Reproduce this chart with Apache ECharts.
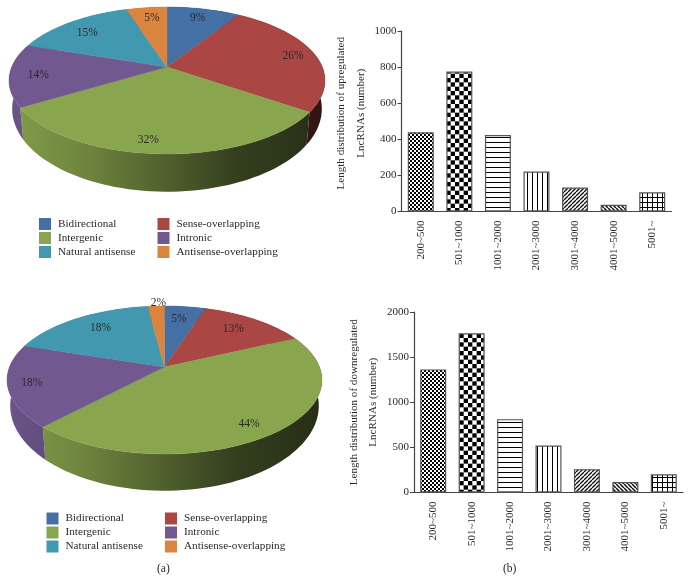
<!DOCTYPE html>
<html><head><meta charset="utf-8">
<style>html,body{margin:0;padding:0;background:#fff}#c{width:691px;height:579px}</style>
<script src="https://cdn.jsdelivr.net/npm/echarts@6/dist/echarts.min.js"></script>
</head><body><div id="c"></div>
<script>
// ---- data ----
const pieCategories = ['Bidirectional','Sense-overlapping','Intergenic','Intronic','Natural antisense','Antisense-overlapping'];
const upPieShares = [9,26,32,14,15,5];
const downPieShares = [5,13,44,18,18,2];
const lengthBins = ['200~500','501~1000','1001~2000','2001~3000','3001~4000','4001~5000','5001~'];
const upLengths = [439,775,424,221,133,37,106];
const downLengths = [1364,1765,813,521,259,115,203];

// ---- styling ----
const FONT = '"Liberation Serif","Times New Roman",serif';
const TEXT = '#2a2a2a';
const sliceColors = ['#4470a6','#aa4643','#89a54e','#71588f','#4198af','#db843d'];
const sideShade = [[0,.95],[.25,.8],[.5,.58],[.72,.38],[1,.28]];
const upPieLayout = {cx:167,cy:67,R:155.3,S:71,p:.1837,inset:.98,front:37.7,slope:.127,nudge:[[0,0],[5,0],[-14,4],[0,2],[1,3],[2,1]]};
const downPieLayout = {cx:164.5,cy:367,R:155,S:71.7,p:.1757,inset:.98,front:36.7,slope:.148,nudge:[[-3,3],[-7,2],[0,3],[-5,1],[9,2],[1,-13]]};

function shade(hex,f){
  const n=parseInt(hex.slice(1),16);
  const c=[n>>16,(n>>8)&255,n&255].map(v=>Math.round(v*f));
  return 'rgb('+c.join(',')+')';
}
// perspective view of the pie disc
function project(L,frac,r){
  const t=2*Math.PI*frac, u=r*Math.sin(t), v=-r*Math.cos(t), w=1-L.p*v;
  return [L.cx+L.R*u/w, L.cy+L.S*v/w];
}
function drop(L,pt){
  return [L.cx+(pt[0]-L.cx)*L.inset, pt[1]+L.front+(pt[1]-L.cy-87)*L.slope];
}
function spans(shares){
  const tot=shares.reduce((a,b)=>a+b,0); let c=0;
  return shares.map(s=>{const a=c/tot; c+=s; return [a,c/tot];});
}
function arc(L,a,b){
  const n=Math.max(4,Math.ceil((b-a)*160)), out=[];
  for(let i=0;i<=n;i++) out.push(project(L,a+(b-a)*i/n,1));
  return out;
}
function sideSeries(shares,L){
  const sp=spans(shares);
  return {type:'custom',coordinateSystem:'none',silent:true,z:1,animation:false,
    data:shares.map(s=>[s]),
    renderItem(params){
      const i=params.dataIndex, top=arc(L,sp[i][0],sp[i][1]);
      const pts=top.concat(top.map(p=>drop(L,p)).reverse());
      const x0=L.cx-L.R*1.02, x1=L.cx+L.R*1.02;
      return {type:'polygon',shape:{points:pts},style:{
        fill:new echarts.graphic.LinearGradient(x0,0,x1,0,
          sideShade.map(s=>({offset:s[0],color:shade(sliceColors[i],s[1])})),true)}};
    }};
}
function topSeries(shares,L){
  const sp=spans(shares);
  return pieCategories.map((name,i)=>({type:'custom',name,coordinateSystem:'none',silent:true,z:2,animation:false,
    itemStyle:{color:sliceColors[i]},
    data:[[shares[i]]],
    renderItem(){
      const pts=[[L.cx,L.cy]].concat(arc(L,sp[i][0],sp[i][1]));
      const m=(sp[i][0]+sp[i][1])/2, pos=project(L,m,.82);
      return {type:'group',children:[
        {type:'polygon',shape:{points:pts},style:{fill:sliceColors[i],stroke:sliceColors[i],lineWidth:.4}},
        {type:'text',z2:5,style:{x:pos[0]+L.nudge[i][0],y:pos[1]+L.nudge[i][1],text:shares[i]+'%',
          font:'11.5px '+FONT,fill:TEXT,textAlign:'center',textVerticalAlign:'middle'}}
      ]};
    }}));
}
function pieLegend(names,left,top){
  return {show:true,orient:'vertical',left,top,padding:0,itemWidth:12,itemHeight:12,itemGap:2,icon:'rect',
    selectedMode:false,data:names,
    textStyle:{fontFamily:FONT,fontSize:11.2,color:TEXT,padding:[0,0,0,2]}};
}
// fill patterns for the bars
function pattern(draw,size){
  const cv=document.createElement('canvas'); cv.width=cv.height=size;
  const g=cv.getContext('2d'); g.fillStyle='#fff'; g.fillRect(0,0,size,size);
  g.fillStyle='#000'; g.strokeStyle='#111'; draw(g,size);
  return {image:cv,repeat:'repeat'};
}
function checker(cell,count){return (g)=>{for(let a=0;a<count;a++)for(let b=0;b<count;b++)if((a+b)%2)g.fillRect(a*cell,b*cell,cell,cell);};}
const barPatterns=[
  pattern(checker(2,2),4),
  pattern(checker(26/6,6),26),
  pattern((g,s)=>{g.fillRect(0,2,s,1);},5),
  pattern((g,s)=>{g.fillRect(2,0,1,s);},5),
  pattern((g,s)=>{g.lineWidth=1.3;for(let k=-s;k<=2*s;k+=s){g.beginPath();g.moveTo(k,s);g.lineTo(k+s,0);g.stroke();}},4),
  pattern((g,s)=>{g.lineWidth=1.5;for(let k=-s;k<=2*s;k+=s){g.beginPath();g.moveTo(k,0);g.lineTo(k+s,s);g.stroke();}},4),
  pattern((g,s)=>{g.fillRect(0,2,s,1);g.fillRect(2,0,1,s);},5)
];
const AXIS='#444';
function xAxisFor(gridIndex){
  return {type:'category',gridIndex,data:lengthBins,
    axisTick:{alignWithLabel:true,length:4,lineStyle:{color:AXIS}},
    axisLine:{lineStyle:{color:AXIS,width:1.2}},
    axisLabel:{rotate:90,margin:9,interval:0,fontFamily:FONT,fontSize:11,color:TEXT}};
}
function yAxisFor(gridIndex,max,interval,name,nameGap,nameShift){
  return {type:'value',gridIndex,min:0,max,interval,name,nameLocation:'middle',nameRotate:90,nameGap,
    nameTextStyle:{fontFamily:FONT,fontSize:11.1,color:TEXT,lineHeight:19.5,padding:[0,0,0,nameShift]},
    splitLine:{show:false},
    axisLine:{show:true,lineStyle:{color:AXIS,width:1.2}},
    axisTick:{show:true,length:4,lineStyle:{color:AXIS}},
    axisLabel:{margin:5,fontFamily:FONT,fontSize:11,color:TEXT,formatter:v=>String(v)}};
}
function barSeries(values,idx){
  return {type:'bar',xAxisIndex:idx,yAxisIndex:idx,barWidth:26,animation:false,silent:true,
    data:values.map((v,i)=>({value:v,itemStyle:{color:barPatterns[i],borderColor:'#555',borderWidth:1.2}}))};
}
const chart=echarts.init(document.getElementById('c'),null,{renderer:'canvas'});
const col1=[pieCategories[0],pieCategories[2],pieCategories[4]];
const col2=[pieCategories[1],pieCategories[3],pieCategories[5]];
chart.setOption({
  backgroundColor:'#fff',animation:false,
  title:[
    {text:'(a)',left:157,top:563,padding:0,textStyle:{fontFamily:FONT,fontSize:11.5,fontWeight:'normal',color:TEXT}},
    {text:'(b)',left:503,top:563,padding:0,textStyle:{fontFamily:FONT,fontSize:11.5,fontWeight:'normal',color:TEXT}}
  ],
  legend:[pieLegend(col1,39,218),pieLegend(col2,157.5,218),pieLegend(col1,46.5,512.5),pieLegend(col2,165,512.5)],
  grid:[
    {left:401.5,top:31,width:270,height:180.5},
    {left:414,top:312,width:269,height:180.5}
  ],
  xAxis:[xAxisFor(0),xAxisFor(1)],
  yAxis:[
    yAxisFor(0,1000,200,'Length distribution of upregulated\nLncRNAs (number)',25,16),
    yAxisFor(1,2000,500,'Length distribution of downregulated\nLncRNAs (number)',28,0)
  ],
  series:[
    sideSeries(upPieShares,upPieLayout),...topSeries(upPieShares,upPieLayout),
    sideSeries(downPieShares,downPieLayout),...topSeries(downPieShares,downPieLayout),
    barSeries(upLengths,0),barSeries(downLengths,1)
  ]
});
</script></body></html>
